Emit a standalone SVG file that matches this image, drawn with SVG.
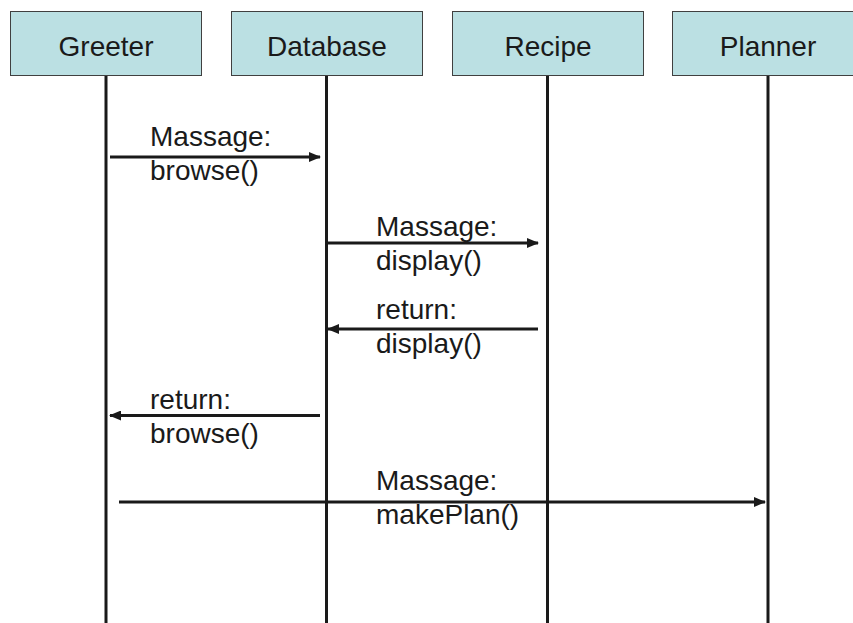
<svg xmlns="http://www.w3.org/2000/svg" width="853" height="623" viewBox="0 0 853 623">
<style>
.box{fill:#BBE0E3;stroke:#404040;stroke-width:1}
.name{font-family:"Liberation Sans",Arial,sans-serif;font-size:28px;fill:#1a1a1a;text-anchor:middle}
.life{stroke:#1a1a1a;stroke-width:3}
.msg{stroke:#1a1a1a;stroke-width:3;fill:none}
.lbl{font-family:"Liberation Sans",Arial,sans-serif;font-size:28px;fill:#1a1a1a}
</style>
<defs>
<marker id="ah" markerWidth="12" markerHeight="10" refX="11" refY="5" orient="auto" markerUnits="userSpaceOnUse">
<path d="M0,0 L12,5 L0,10 Z" fill="#1a1a1a"/>
</marker>
</defs>
<rect width="853" height="623" fill="#ffffff"/>
<g id="greeter">
<rect class="box" x="10.5" y="11.5" width="191" height="64"/>
<text class="name" x="106" y="56">Greeter</text>
<line class="life" x1="106" y1="76" x2="106" y2="623"/>
</g>
<g id="database">
<rect class="box" x="231.5" y="11.5" width="191" height="64"/>
<text class="name" x="327" y="56">Database</text>
<line class="life" x1="326.5" y1="76" x2="326.5" y2="623"/>
</g>
<g id="recipe">
<rect class="box" x="452.5" y="11.5" width="191" height="64"/>
<text class="name" x="548" y="56">Recipe</text>
<line class="life" x1="547.5" y1="76" x2="547.5" y2="623"/>
</g>
<g id="planner">
<rect class="box" x="672.5" y="11.5" width="191" height="64"/>
<text class="name" x="768" y="56">Planner</text>
<line class="life" x1="768" y1="76" x2="768" y2="623"/>
</g>
<g id="connectors">
<line class="msg" x1="110" y1="157" x2="320" y2="157" marker-end="url(#ah)"/>
<line class="msg" x1="327" y1="243" x2="538" y2="243" marker-end="url(#ah)"/>
<line class="msg" x1="538" y1="329" x2="328" y2="329" marker-end="url(#ah)"/>
<line class="msg" x1="320" y1="415.5" x2="110" y2="415.5" marker-end="url(#ah)"/>
<line class="msg" x1="119" y1="502" x2="765" y2="502" marker-end="url(#ah)"/>
<text class="lbl" x="150" y="146">Massage:</text>
<text class="lbl" x="150" y="180">browse()</text>
<text class="lbl" x="376" y="236">Massage:</text>
<text class="lbl" x="376" y="270">display()</text>
<text class="lbl" x="376" y="319">return:</text>
<text class="lbl" x="376" y="353">display()</text>
<text class="lbl" x="150" y="409">return:</text>
<text class="lbl" x="150" y="443">browse()</text>
<text class="lbl" x="376" y="490">Massage:</text>
<text class="lbl" x="376" y="524">makePlan()</text>
</g>
</svg>
